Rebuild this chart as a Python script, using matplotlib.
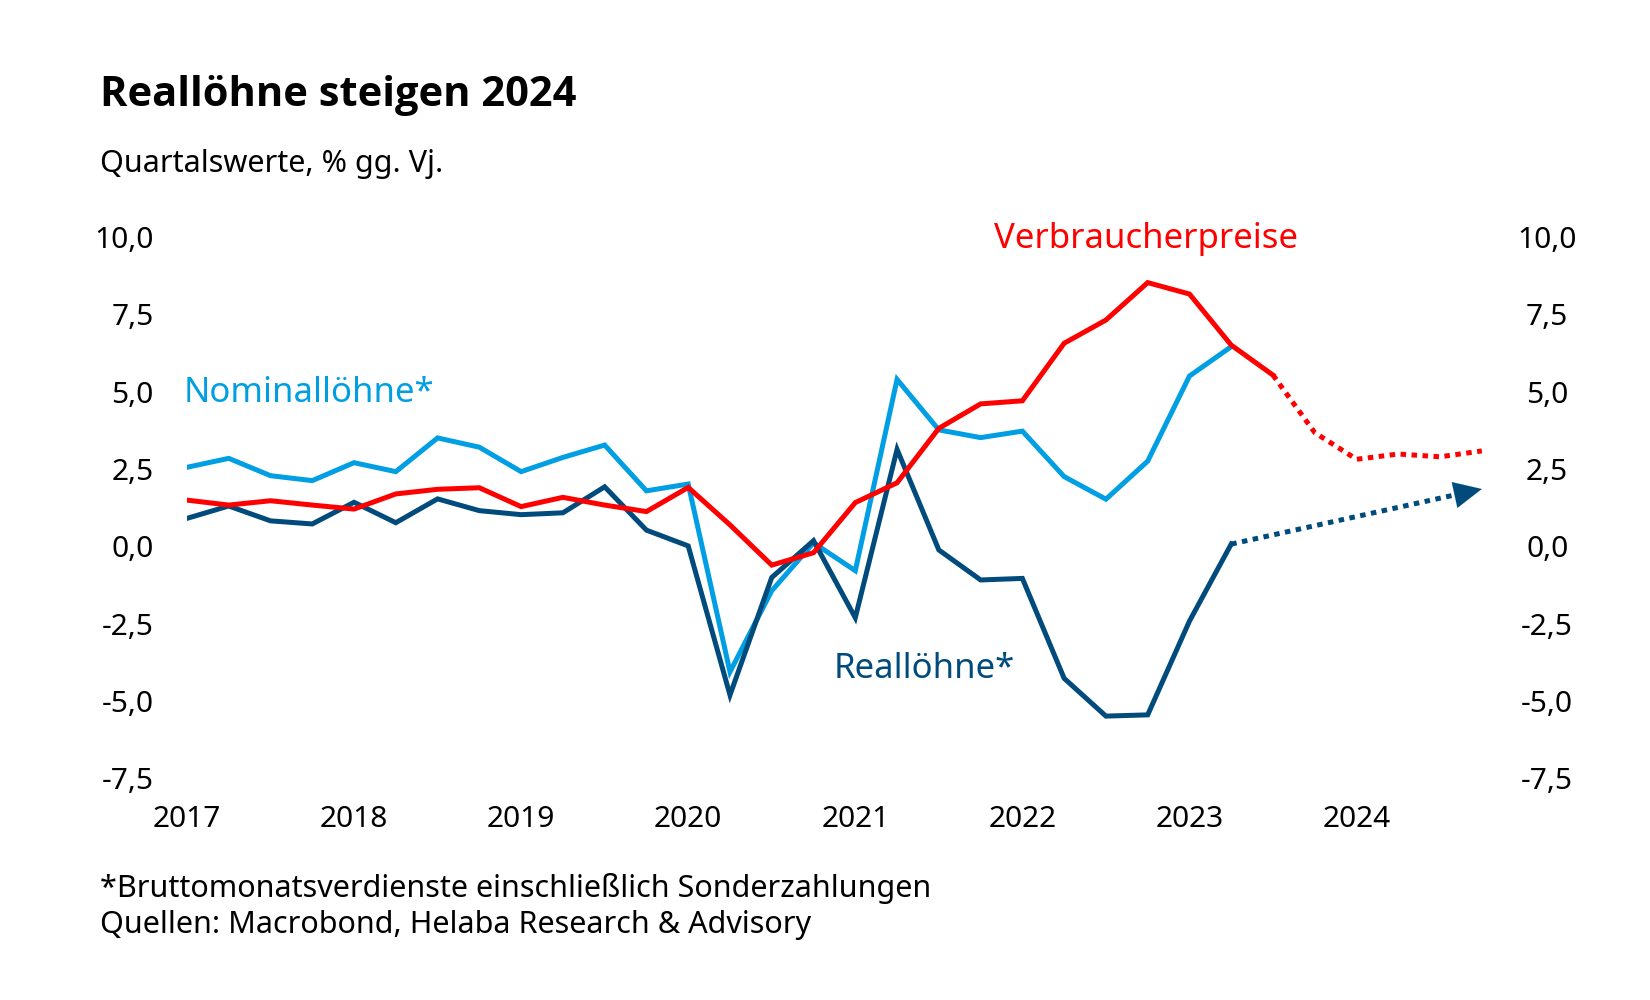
import matplotlib
matplotlib.use("Agg")
import matplotlib.pyplot as plt
import numpy as np
import pandas as pd

plt.rcParams["font.family"] = ["Noto Sans", "DejaVu Sans"]

# quarterly data, % yoy
quarters = pd.period_range("2017Q1", "2024Q4", freq="Q")

nominal = [2.55, 2.84, 2.28, 2.12, 2.70, 2.41, 3.50, 3.20, 2.41, 2.87, 3.27, 1.79,
           2.01, -4.06, -1.44, 0.11, -0.79, 5.39, 3.76, 3.51, 3.72, 2.25, 1.52, 2.75,
           5.50, 6.45]
real = [0.90, 1.30, 0.82, 0.72, 1.42, 0.76, 1.53, 1.15, 1.02, 1.08, 1.92, 0.52,
        0.01, -4.81, -1.01, 0.18, -2.31, 3.13, -0.12, -1.09, -1.04, -4.27, -5.49, -5.45,
        -2.42, 0.07]
real_forecast = [0.07, 1.85]          # 2023Q2 -> 2024Q4
cpi = [1.49, 1.33, 1.47, 1.33, 1.20, 1.69, 1.84, 1.89, 1.28, 1.58, 1.33, 1.12,
       1.90, 0.69, -0.61, -0.21, 1.41, 2.05, 3.81, 4.60, 4.70, 6.56, 7.31, 8.52,
       8.15, 6.50, 5.53]
cpi_forecast = [5.53, 3.67, 2.81, 2.98, 2.89, 3.08]   # 2023Q3 -> 2024Q4

years = [2017, 2018, 2019, 2020, 2021, 2022, 2023, 2024]
y_ticks = [-7.5, -5.0, -2.5, 0.0, 2.5, 5.0, 7.5, 10.0]
y_labels = ["-7,5", "-5,0", "-2,5", "0,0", "2,5", "5,0", "7,5", "10,0"]

LIGHT = "#009FE3"
DARK = "#004B7C"
RED = "#FF0000"

x = quarters.year + (quarters.quarter - 1) / 4.0
x = np.asarray(x, dtype=float)

fig = plt.figure(figsize=(16.5, 10), dpi=100)
ax = fig.add_axes([0.1133, 0.2217, 0.7848, 0.5415])

ax.plot(x[:len(nominal)], nominal, color=LIGHT, lw=3.6, solid_joinstyle="miter")
ax.plot(x[:len(real)], real, color=DARK, lw=3.6, solid_joinstyle="miter")
ax.plot(x[:len(cpi)], cpi, color=RED, lw=3.6, solid_joinstyle="miter")

# forecasts
ax.plot(x[len(cpi) - 1:], cpi_forecast, color=RED, lw=3.6,
        linestyle=(0, (1.1, 1.1)), dash_capstyle="butt")
xr = [x[len(real) - 1], x[-1]]
ax.plot([xr[0], xr[0] + 0.93 * (xr[1] - xr[0])],
        [real_forecast[0], real_forecast[0] + 0.93 * (real_forecast[1] - real_forecast[0])],
        color=DARK, lw=3.6, linestyle=(0, (1.1, 1.1)), dash_capstyle="butt")
# arrow head at end of real wage forecast
t = 0.9
ax.annotate("", xy=(xr[1], real_forecast[1]),
            xytext=(xr[0] + t * (xr[1] - xr[0]),
                    real_forecast[0] + t * (real_forecast[1] - real_forecast[0])),
            arrowprops=dict(arrowstyle="-|>,head_length=2.0,head_width=0.95",
                            color=DARK, lw=0.1, shrinkA=0, shrinkB=0))

ax.set_xlim(x[0], x[-1])
ax.set_ylim(-7.5, 10.0)
ax.set_xticks(years)
ax.set_xticklabels([str(y) for y in years])
ax.set_yticks(y_ticks)
ax.set_yticklabels(y_labels)
for s in ax.spines.values():
    s.set_visible(False)
ax.tick_params(axis="both", length=0, labelsize=21.5)
ax.tick_params(axis="y", pad=24)
ax.tick_params(axis="x", pad=19)

ax2 = ax.twinx()
ax2.set_ylim(ax.get_ylim())
ax2.set_yticks(y_ticks)
ax2.set_yticklabels(y_labels)
for s in ax2.spines.values():
    s.set_visible(False)
ax2.tick_params(axis="y", length=0, labelsize=21.5, pad=47)
for lab in ax2.get_yticklabels():
    lab.set_horizontalalignment("center")

# series labels
ax.text(2022.74, 9.92, "Verbraucherpreise", color=RED, fontsize=25,
        ha="center", va="center")
ax.text(2016.98, 4.95, "Nominallöhne*", color=LIGHT, fontsize=25,
        ha="left", va="center")
ax.text(2021.41, -3.97, "Reallöhne*", color=DARK, fontsize=25,
        ha="center", va="center")

fig.text(0.0606, 0.905, "Reallöhne steigen 2024", fontsize=30, fontweight="bold",
         family=["Open Sans", "DejaVu Sans"], ha="left", va="center")
fig.text(0.0606, 0.836, "Quartalswerte, % gg. Vj.", fontsize=22,
         ha="left", va="center")
fig.text(0.0606, 0.112, "*Bruttomonatsverdienste einschließlich Sonderzahlungen",
         fontsize=22, ha="left", va="center")
fig.text(0.0606, 0.075, "Quellen: Macrobond, Helaba Research & Advisory",
         fontsize=22, ha="left", va="center")

fig.savefig("out.png", dpi=100, facecolor="white")
plt.close(fig)
